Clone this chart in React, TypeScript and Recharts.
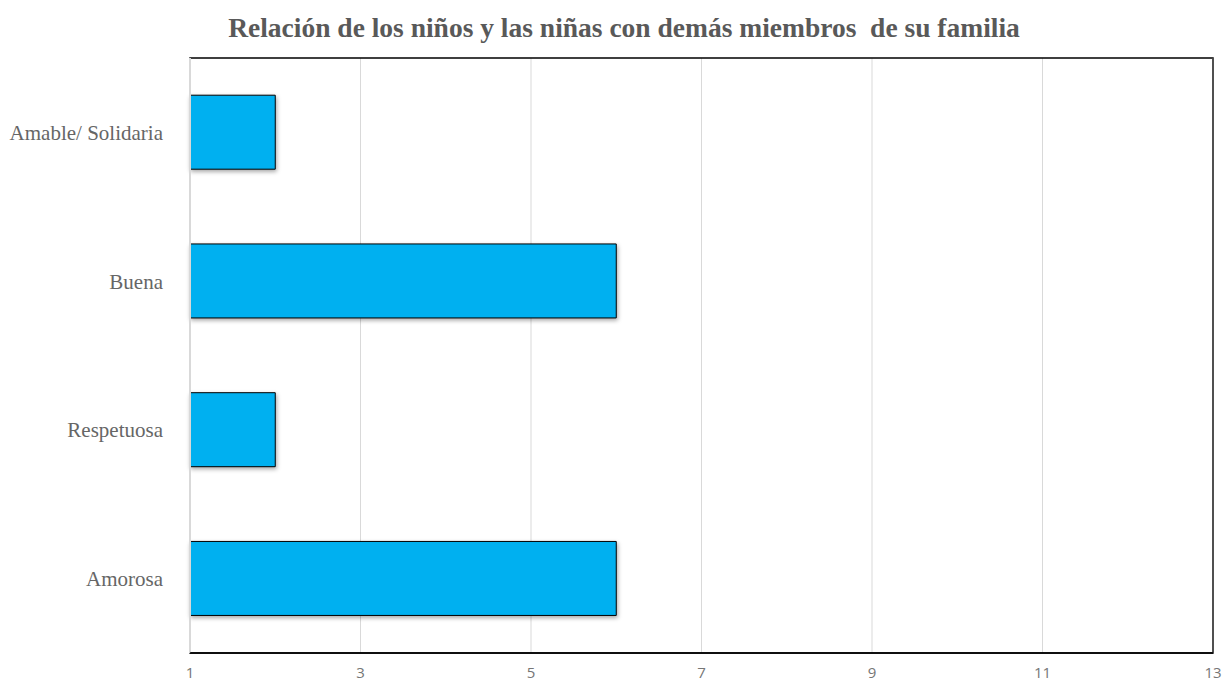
import React from 'react';
import { BarChart, Bar, XAxis, YAxis, CartesianGrid, ReferenceLine, ReferenceArea } from 'recharts';

const categories = ['Amable/ Solidaria', 'Buena', 'Respetuosa', 'Amorosa'];
const values = [2, 6, 2, 6];
const xTicks = [1, 3, 5, 7, 9, 11, 13];
const title = 'Relación de los niños y las niñas con demás miembros  de su familia';

const data = categories.map((c, i) => ({ name: c, value: values[i] }));

const XTick = (props: any) => {
  const { x, y, payload } = props;
  return (
    <text
      x={x}
      y={y}
      textAnchor="middle"
      fill="#767676"
      fontSize={15}
      fontFamily='"Open Sans", sans-serif'
    >
      {payload.value}
    </text>
  );
};

export default function App() {
  return (
    <div style={{ position: 'absolute', left: 0, top: 0, width: 1222, height: 681, background: '#fff' }}>
      <div
        style={{
          position: 'absolute',
          left: 0,
          top: 12,
          width: 1248,
          textAlign: 'center',
          fontFamily: '"Liberation Serif", "Times New Roman", serif',
          fontWeight: 'bold',
          fontSize: 27.5,
          lineHeight: '31px',
          color: '#595959',
          whiteSpace: 'pre',
        }}
      >
        {title}
      </div>
      <BarChart
        width={1222}
        height={681}
        data={data}
        layout="vertical"
        margin={{ top: 58, right: 9, bottom: 0, left: 0 }}
        barCategoryGap="25%"
      >
        <CartesianGrid horizontal={false} vertical={true} stroke="#d9d9d9" />
        <XAxis
          type="number"
          domain={[1, 13]}
          ticks={xTicks}
          interval={0}
          height={28}
          axisLine={{ stroke: '#000', strokeWidth: 1.5 }}
          tickLine={false}
          tickSize={0}
          tickMargin={25}
          tick={<XTick />}
        />
        <YAxis
          type="category"
          dataKey="name"
          width={190}
          axisLine={false}
          tickLine={false}
          tickMargin={21}
          tick={{ fill: '#666666', fontSize: 21, fontFamily: '"Liberation Serif", "Times New Roman", serif' }}
        />
        <ReferenceArea x1={1} x2={13} fill="none" stroke="#000" strokeWidth={1.5} ifOverflow="extendDomain" />
        <ReferenceLine x={1} stroke="#d9d9d9" strokeWidth={2} />
        <ReferenceLine x={13} stroke="#595959" strokeWidth={1.5} />
        <Bar
          dataKey="value"
          fill="#00B0F0"
          stroke="#000"
          strokeWidth={1}
          isAnimationActive={false}
          style={{ filter: 'drop-shadow(1px 2px 2px rgba(0,0,0,0.35))' }}
        />
      </BarChart>
    </div>
  );
}
